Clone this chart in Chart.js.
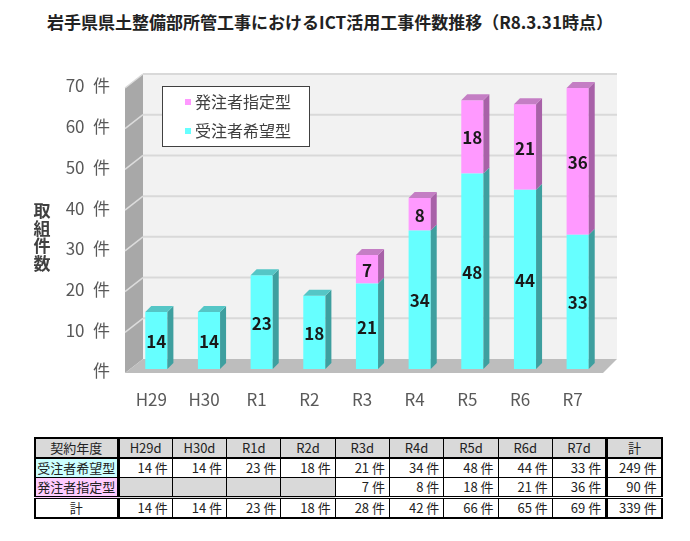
<!DOCTYPE html>
<html lang="ja">
<head>
<meta charset="utf-8">
<script src="https://cdn.jsdelivr.net/npm/chart.js@4.4.1/dist/chart.umd.min.js"></script>
<style>
body { margin:0; width:690px; height:541px; background:#fff; position:relative; overflow:hidden; font-family:'Noto Sans CJK JP', sans-serif; }
#title { position:absolute; left:0; top:11px; width:660px; text-align:center; font-size:17px; font-weight:bold; color:#222; line-height:22px; }
#wrap { position:absolute; left:0; top:0; width:690px; height:420px; }
#tbl { position:absolute; left:34px; top:437px; width:627px; border-collapse:collapse; table-layout:fixed; font-size:13px; color:#222; border:2px solid #000; }
#tbl td { border:1px solid #000; height:18px; line-height:18px; padding:0 4px 0 0; text-align:right; font-family:'Liberation Sans Narrow','Noto Sans CJK JP',sans-serif; white-space:nowrap; }
#tbl tr.head td { background:#d9d9d9; text-align:center; padding:0; border-bottom:2px solid #000; }
#tbl td.lab { text-align:center; padding:0; border-right:3px solid #000; font-family:'Noto Sans CJK JP',sans-serif; }
#tbl td.sum { border-left:3px solid #000; }
#tbl tr.total td { border-top:3px double #000; }
#tbl td.empty { background:#d9d9d9; }
</style>
</head>
<body>
<div id="title">岩手県県土整備部所管工事におけるICT活用工事件数推移（R8.3.31時点）</div>
<div id="wrap"><canvas id="chart"></canvas></div>
<table id="tbl"></table>
<script>
// 年度ごとの件数
var years = ['H29', 'H30', 'R1', 'R2', 'R3', 'R4', 'R5', 'R6', 'R7'];
var tableYears = ['H29d', 'H30d', 'R1d', 'R2d', 'R3d', 'R4d', 'R5d', 'R6d', 'R7d'];
var juchu = [14, 14, 23, 18, 21, 34, 48, 44, 33];      // 受注者希望型
var hatchu = [null, null, null, null, 7, 8, 18, 21, 36]; // 発注者指定型
var totals = [14, 14, 23, 18, 28, 42, 66, 65, 69];
var rowSums = [249, 90, 339];
var yTicks = [0, 10, 20, 30, 40, 50, 60, 70];

var numFont = "'Liberation Sans Narrow', 'Noto Sans CJK JP', sans-serif";
var jpFont = "'Noto Sans CJK JP', sans-serif";

var faces = {
    '受注者希望型': {side: '#3e9f9f', top: '#55c6c6'},
    '発注者指定型': {side: '#a861a8', top: '#c47ec4'}
};

// 3D風の壁・床・棒の側面
var box3d = {
    id: 'box3d',
    beforeDatasetsDraw: function (chart) {
        var ctx = chart.ctx, a = chart.chartArea, y = chart.scales.y;
        var bx = 13, by = -10, fx = -5, fy = 4;
        var yb = function (v) { return y.getPixelForValue(v) + by; };
        var yf = function (v) { return y.getPixelForValue(v) + fy; };
        ctx.save();
        // back wall
        ctx.fillStyle = '#f2f2f2';
        ctx.fillRect(a.left + bx, yb(70), a.right - a.left, yb(0) - yb(70));
        // left wall
        ctx.fillStyle = '#a8a8a8';
        ctx.beginPath();
        ctx.moveTo(a.left + fx, yf(70));
        ctx.lineTo(a.left + bx, yb(70));
        ctx.lineTo(a.left + bx, yb(0));
        ctx.lineTo(a.left + fx, yf(0));
        ctx.closePath();
        ctx.fill();
        // floor
        ctx.fillStyle = '#bdbdbd';
        ctx.beginPath();
        ctx.moveTo(a.left + fx, yf(0));
        ctx.lineTo(a.left + bx, yb(0));
        ctx.lineTo(a.right + bx, yb(0));
        ctx.lineTo(a.right - 1, yf(0));
        ctx.closePath();
        ctx.fill();
        // grid
        yTicks.forEach(function (v) {
            if (v === 0) return;
            ctx.strokeStyle = '#d9d9d9';
            ctx.lineWidth = 2;
            ctx.beginPath();
            ctx.moveTo(a.left + bx, yb(v));
            ctx.lineTo(a.right + bx, yb(v));
            ctx.stroke();
            ctx.strokeStyle = '#dcdcdc';
            ctx.lineWidth = 1.5;
            ctx.beginPath();
            ctx.moveTo(a.left + fx, yf(v));
            ctx.lineTo(a.left + bx, yb(v));
            ctx.stroke();
        });
        ctx.restore();
    },
    afterDatasetsDraw: function (chart) {
        var ctx = chart.ctx, d = 6;
        var sets = chart.data.datasets;
        ctx.save();
        sets.forEach(function (ds, i) {
            var meta = chart.getDatasetMeta(i);
            meta.data.forEach(function (bar, j) {
                var v = ds.data[j];
                if (v === null || v === undefined) return;
                var l = bar.x - bar.width / 2, r = bar.x + bar.width / 2;
                var t = bar.y, b = bar.base;
                var isTop = true;
                for (var k = i + 1; k < sets.length; k++) {
                    if (sets[k].data[j] !== null && sets[k].data[j] !== undefined) isTop = false;
                }
                ctx.fillStyle = faces[ds.label].side;
                ctx.beginPath();
                ctx.moveTo(r, t);
                ctx.lineTo(r + d, t - d);
                ctx.lineTo(r + d, b - d);
                ctx.lineTo(r, b);
                ctx.closePath();
                ctx.fill();
                if (isTop) {
                    ctx.fillStyle = faces[ds.label].top;
                    ctx.beginPath();
                    ctx.moveTo(l, t);
                    ctx.lineTo(l + d, t - d);
                    ctx.lineTo(r + d, t - d);
                    ctx.lineTo(r, t);
                    ctx.closePath();
                    ctx.fill();
                }
                ctx.fillStyle = '#1a1a1a';
                ctx.font = 'bold 17px ' + numFont;
                ctx.textAlign = 'center';
                ctx.textBaseline = 'middle';
                ctx.fillText(String(v), bar.x, (t + b) / 2 + 1);
            });
        });
        ctx.restore();
    },
    afterDraw: function (chart) {
        var ctx = chart.ctx;
        ctx.save();
        // 縦書きの軸タイトル
        ctx.fillStyle = '#404040';
        ctx.font = 'bold 17px ' + jpFont;
        ctx.textAlign = 'center';
        ctx.textBaseline = 'middle';
        '取組件数'.split('').forEach(function (ch, n) {
            ctx.fillText(ch, 42, 211 + n * 17.5);
        });
        // 凡例
        ctx.fillStyle = '#fff';
        ctx.fillRect(162.5, 86.5, 147, 60);
        ctx.strokeStyle = '#404040';
        ctx.lineWidth = 1;
        ctx.strokeRect(162.5, 86.5, 147, 60);
        var items = chart.data.datasets.slice().reverse();
        ctx.font = '16px ' + jpFont;
        ctx.textAlign = 'left';
        items.forEach(function (ds, n) {
            var cy = 102 + n * 29;
            ctx.fillStyle = ds.backgroundColor;
            ctx.fillRect(185, cy - 3, 6, 6);
            ctx.fillStyle = '#404040';
            ctx.fillText(ds.label, 195, cy);
        });
        ctx.restore();
    }
};

new Chart(document.getElementById('chart'), {
    type: 'bar',
    data: {
        labels: years,
        datasets: [
            {label: '受注者希望型', data: juchu, backgroundColor: '#66ffff', barPercentage: 0.42, categoryPercentage: 1},
            {label: '発注者指定型', data: hatchu, backgroundColor: '#ff99ff', barPercentage: 0.42, categoryPercentage: 1}
        ]
    },
    options: {
        responsive: true,
        maintainAspectRatio: false,
        animation: false,
        layout: {padding: {top: 84, right: 86, left: 0, bottom: 0}},
        plugins: {legend: {display: false}, tooltip: {enabled: false}},
        scales: {
            x: {
                stacked: true,
                grid: {display: false},
                border: {display: false},
                ticks: {color: '#595959', font: {family: numFont, size: 17}, padding: 12, labelOffset: -5},
                afterFit: function (s) { s.height = 51; }
            },
            y: {
                stacked: true,
                min: 0,
                max: 70,
                grid: {display: false, drawTicks: false},
                border: {display: false},
                ticks: {
                    stepSize: 10,
                    color: '#595959',
                    padding: 20,
                    labelOffset: 2,
                    font: {family: numFont, size: 17},
                    callback: function (v) { return v === 0 ? '件' : v + '\u2002件'; }
                },
                afterFit: function (s) { s.width = 130; }
            }
        }
    },
    plugins: [box3d]
});

// 表
function fmt(n) { return n === null ? '' : n + ' 件'; }
var tbl = document.getElementById('tbl');
var html = '<colgroup><col style="width:83px">';
tableYears.forEach(function () { html += '<col style="width:54.3px">'; });
html += '<col style="width:55px"></colgroup>';
html += '<tr class="head"><td class="lab">契約年度</td>';
tableYears.forEach(function (t) { html += '<td>' + t + '</td>'; });
html += '<td class="sum">計</td></tr>';
html += '<tr><td class="lab" style="background:#ccffff">受注者希望型</td>';
juchu.forEach(function (v) { html += '<td>' + fmt(v) + '</td>'; });
html += '<td class="sum">' + fmt(rowSums[0]) + '</td></tr>';
html += '<tr><td class="lab" style="background:#ffccff">発注者指定型</td>';
hatchu.forEach(function (v) { html += '<td' + (v === null ? ' class="empty"' : '') + '>' + fmt(v) + '</td>'; });
html += '<td class="sum">' + fmt(rowSums[1]) + '</td></tr>';
html += '<tr class="total"><td class="lab">計</td>';
totals.forEach(function (v) { html += '<td>' + fmt(v) + '</td>'; });
html += '<td class="sum">' + fmt(rowSums[2]) + '</td></tr>';
tbl.innerHTML = html;
</script>
</body>
</html>
